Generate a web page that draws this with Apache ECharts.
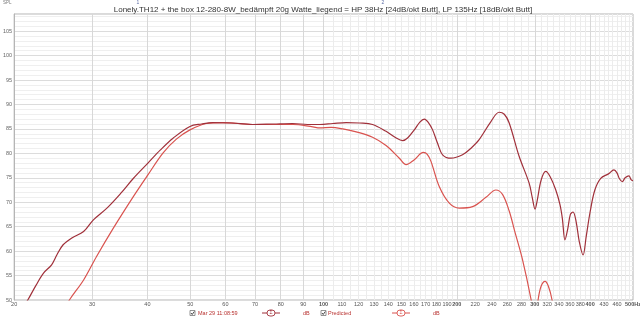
<!DOCTYPE html>
<html>
<head>
<meta charset="utf-8">
<script src="https://cdn.jsdelivr.net/npm/echarts@6/dist/echarts.min.js"></script>
<style>html,body{margin:0;padding:0;background:#fff}#c{width:640px;height:317px}</style>
</head>
<body>
<div id="c"></div>
<script>
// ---- data ----
const titleText = 'Lonely.TH12 + the box 12-280-8W_bedämpft 20g Watte_liegend = HP 38Hz [24dB/okt Butt], LP 135Hz [18dB/okt Butt]';
const seriesNames = ['Mar 29 11:08:59', 'Predicted'];

const freqMeasured = [20.5,21.5,22.4,23.3,24.3,25.0,25.8,27.0,28.7,30.2,32.4,34.8,37.2,40.1,42.8,45.7,49.9,53,56.2,62,69.2,77,85.1,92,98,104.9,112.5,120.5,129,138.4,145,150.9,155,160.3,165,168.9,172.5,176.3,181,185.7,194,206,215,224.6,238.8,249.2,256,262.6,276.5,291.3,296,300.4,304,310,317.6,325,334.6,342,346.2,351,356,361,366,372,378,385.6,392,400,410,422.7,440,452.9,460,466,472.9,480,489.5,495,500];
const dbMeasured   = [47,50.1,53.0,55.5,57.2,59.3,61.3,62.7,64.0,66.4,68.8,71.8,74.9,78.0,80.7,83.1,85.5,86.0,86.3,86.2,85.9,86.0,86.1,85.9,85.9,86.1,86.3,86.2,85.9,84.5,83.3,82.6,83.2,84.8,86.4,87.0,86.3,84.8,82.0,79.7,79.0,79.7,81.0,82.8,86.5,88.4,88.0,86.2,79.4,73.9,71.0,68.6,70.5,74.5,76.3,75.2,72.5,69.5,66.7,62.3,64.5,67.5,68.0,66.0,62.0,59.2,63.0,68.0,72.5,74.9,75.8,76.6,76.0,74.8,74.2,75.0,75.4,74.6,74.4];

const freqPredicted = [25.5,26.7,28.7,30.7,33.5,37.2,40.1,43.4,46.5,49.9,54.4,59.3,69.3,85.3,94.6,98,104,110.5,118.5,129,138.4,148.3,153.6,160.3,168,171.5,174.9,182.5,192.3,202.5,217,232.7,245,253.6,262.6,270,281,294.4,299,302,305.2,310,316.5,322,328.2,333];
const dbPredicted   = [47,50.1,54.1,58.9,64.7,71.2,75.6,80.1,82.9,84.8,86.1,86.3,85.9,85.9,85.4,85.2,85.3,85.0,84.4,83.3,81.6,79.0,77.7,78.7,80.2,79.8,78.3,73.2,69.8,68.8,69.1,71.0,72.5,71.6,68.2,64.2,58.5,50.0,46,46,50.0,52.8,53.8,52.8,50.0,46];

const xTickLabels = [20,30,40,50,60,70,80,90,100,110,120,130,140,150,160,170,180,190,200,220,240,260,280,300,320,340,360,380,400,430,460,500];
const xBoldLabels = [100,200,300,400,500];
const xMajorGrid = [30,40,50,60,70,80,90,100,200,300,400];
const yMin = 50, yMax = 108.5, yStep = 5;

// ---- build ----
const pairs = (fs, ds) => fs.map((f, i) => [f, ds[i]]);

const minorGrid = [];
for (let f = 105; f < 200; f += 5) minorGrid.push(f);
for (let f = 210; f < 500; f += 10) minorGrid.push(f);

const gridLineData = []
  .concat(minorGrid.map(f => ({xAxis: f, lineStyle: {color: '#ececec', width: 1, type: 'solid'}})))
  .concat(xMajorGrid.map(f => ({xAxis: f, lineStyle: {color: '#d8d8d8', width: 1, type: 'solid'}})));

const font = 'Liberation Sans, Arial, sans-serif';

const labelLineData = xTickLabels.map(f => ({
  xAxis: f,
  lineStyle: {color: 'rgba(0,0,0,0)', width: 0},
  label: {
    show: true,
    position: 'start',
    distance: 1,
    formatter: f === 500 ? '500Hz' : String(f),
    fontSize: 5.5,
    fontFamily: font,
    color: '#555',
    fontWeight: xBoldLabels.indexOf(f) >= 0 ? 'bold' : 'normal'
  }
}));

function checkbox(x, y) {
  return {
    type: 'group', x: x, y: y, silent: true,
    children: [
      {type: 'rect', shape: {x: 0, y: 0, width: 5, height: 5}, style: {fill: '#fff', stroke: '#777', lineWidth: 0.8}},
      {type: 'polyline', shape: {points: [[1, 2.5], [2.2, 4], [4.3, 1]]}, style: {stroke: '#333', lineWidth: 0.9, fill: null}}
    ]
  };
}
function glyph(x, y, color) {
  return {
    type: 'group', x: x, y: y, silent: true,
    children: [
      {type: 'line', shape: {x1: 0, y1: 0, x2: 18, y2: 0}, style: {stroke: color, lineWidth: 1}},
      {type: 'rect', shape: {x: 5, y: -3, width: 8, height: 6, r: 3}, style: {fill: '#fff', stroke: color, lineWidth: 0.9}},
      {type: 'text', style: {x: 9, y: 0, text: 'Σ', fontSize: 5, fill: color, align: 'center', verticalAlign: 'middle'}}
    ]
  };
}

const legendColor = '#b8312f';

const option = {
  animation: false,
  backgroundColor: '#fff',
  grid: {left: 14, right: 7, top: 14, bottom: 17, show: true, borderColor: '#b5b5b5', borderWidth: 1, backgroundColor: 'transparent'},
  xAxis: {
    type: 'log', logBase: 10, min: 20, max: 500,
    axisLine: {show: false}, axisTick: {show: false}, axisLabel: {show: false},
    splitLine: {show: false}, minorSplitLine: {show: false}
  },
  yAxis: {
    type: 'value', min: yMin, max: yMax, interval: yStep,
    axisLine: {show: true, lineStyle: {color: '#b5b5b5'}},
    axisTick: {show: false},
    axisLabel: {fontSize: 5.5, color: '#666', margin: 2, fontFamily: font, showMaxLabel: false},
    splitLine: {show: true, lineStyle: {color: '#dcdcdc', width: 1}},
    minorTick: {show: false, splitNumber: 5},
    minorSplitLine: {show: true, lineStyle: {color: '#efefef', width: 1}}
  },
  series: [
    {
      type: 'line', data: [], z: 1, silent: true,
      markLine: {silent: true, z: 1, symbol: ['none', 'none'], label: {show: false}, data: gridLineData, animation: false}
    },
    {
      type: 'line', data: [], z: 1, silent: true,
      markLine: {silent: true, z: 1, symbol: ['none', 'none'], data: labelLineData, animation: false}
    },
    {
      name: seriesNames[1], type: 'line', data: pairs(freqPredicted, dbPredicted), z: 6,
      showSymbol: false, smooth: 0.35, clip: true,
      lineStyle: {color: '#d9534f', width: 1.2}
    },
    {
      name: seriesNames[0], type: 'line', data: pairs(freqMeasured, dbMeasured), z: 7,
      showSymbol: false, smooth: 0.35, clip: true,
      lineStyle: {color: '#a0303a', width: 1.2}
    }
  ],
  graphic: [
    {type: 'text', x: 323, y: 10, z: 100, silent: true,
     style: {text: titleText, fontSize: 8, fontFamily: font, fill: '#333', align: 'center', verticalAlign: 'middle'}},
    {type: 'text', x: 3, y: 3, silent: true, style: {text: 'SPL', fontSize: 4.5, fontFamily: font, fill: '#777', verticalAlign: 'middle'}},
    {type: 'text', x: 138, y: 3, silent: true, style: {text: '1', fontSize: 5, fontFamily: font, fill: '#6070a8', align: 'center', verticalAlign: 'middle'}},
    {type: 'text', x: 383, y: 3, silent: true, style: {text: '2', fontSize: 5, fontFamily: font, fill: '#6070a8', align: 'center', verticalAlign: 'middle'}},
    checkbox(190, 310.5),
    {type: 'text', x: 198, y: 313, silent: true, style: {text: seriesNames[0], fontSize: 5.5, fontFamily: font, fill: legendColor, verticalAlign: 'middle'}},
    glyph(262, 313, '#a0303a'),
    {type: 'text', x: 303, y: 313, silent: true, style: {text: 'dB', fontSize: 5.5, fontFamily: font, fill: legendColor, verticalAlign: 'middle'}},
    checkbox(321, 310.5),
    {type: 'text', x: 328, y: 313, silent: true, style: {text: seriesNames[1], fontSize: 5.5, fontFamily: font, fill: legendColor, verticalAlign: 'middle'}},
    glyph(392, 313, '#d9534f'),
    {type: 'text', x: 433, y: 313, silent: true, style: {text: 'dB', fontSize: 5.5, fontFamily: font, fill: legendColor, verticalAlign: 'middle'}}
  ]
};

const chart = echarts.init(document.getElementById('c'), null, {renderer: 'canvas'});
chart.setOption(option);
</script>
</body>
</html>
